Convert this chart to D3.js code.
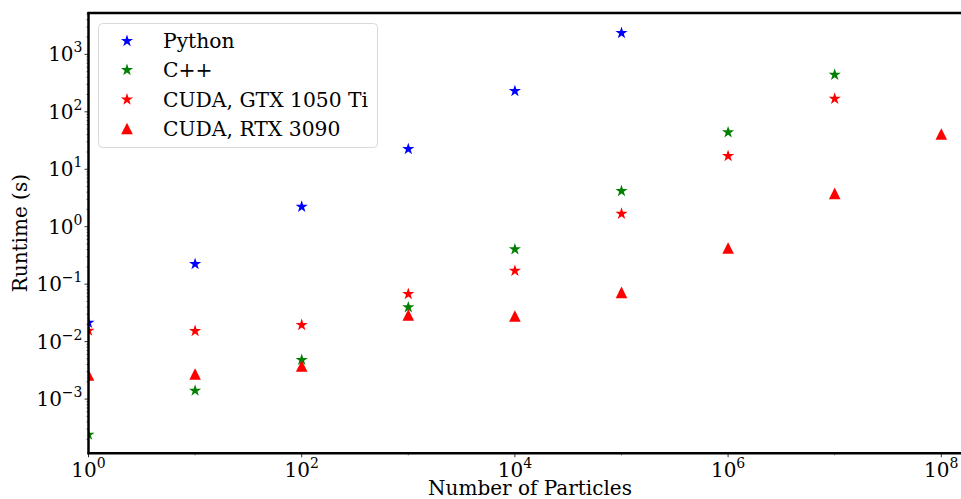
<!DOCTYPE html>
<html>
<head>
<meta charset="utf-8">
<script src="https://cdn.jsdelivr.net/npm/d3@7"></script>
<style>
  html, body { margin: 0; padding: 0; background: #fff; }
  svg { display: block; }
  text { font-family: "DejaVu Serif", serif; fill: #000; }
</style>
</head>
<body>
<svg id="chart" width="961" height="499"></svg>
<script>
// ---------- data ----------
const particlesPython = [1, 10, 100, 1e3, 1e4, 1e5];
const runtimePython   = [0.0213, 0.224, 2.23, 22.5, 230, 2355];

const particlesCpp = [1, 10, 100, 1e3, 1e4, 1e5, 1e6, 1e7];
const runtimeCpp   = [0.00024, 0.0014, 0.0048, 0.0395, 0.404, 4.18, 44, 442];

const particlesGTX = [1, 10, 100, 1e3, 1e4, 1e5, 1e6, 1e7];
const runtimeGTX   = [0.0155, 0.0153, 0.0195, 0.0674, 0.171, 1.68, 17, 169];

const particlesRTX = [1, 10, 100, 1e3, 1e4, 1e5, 1e6, 1e7, 1e8];
const runtimeRTX   = [0.00262, 0.00273, 0.00376, 0.029, 0.0279, 0.0721, 0.426, 3.81, 41.1];

const seriesNames = ["Python", "C++", "CUDA, GTX 1050 Ti", "CUDA, RTX 3090"];
const xTickExponents = [0, 2, 4, 6, 8];
const yTickExponents = [-3, -2, -1, 0, 1, 2, 3];

(function () {
// ---------- layout ----------
const svg = d3.select("#chart");
const mLeft = 88.5, mTop = 13, mBottom = 453.3, mRight = 1000;
const xDecade = 106.6;
const xRightVal = Math.pow(10, (mRight - mLeft) / xDecade);

const x = d3.scaleLog().domain([1, xRightVal]).range([mLeft, mRight]);
const y = d3.scaleLog().domain([Math.pow(10, -3.944), Math.pow(10, 3.72)]).range([mBottom, mTop]);

const series = [
  { name: seriesNames[0], xs: particlesPython, ys: runtimePython, color: "#0000ff", shape: "star" },
  { name: seriesNames[1], xs: particlesCpp,    ys: runtimeCpp,    color: "#008000", shape: "star" },
  { name: seriesNames[2], xs: particlesGTX,    ys: runtimeGTX,    color: "#ff0000", shape: "star" },
  { name: seriesNames[3], xs: particlesRTX,    ys: runtimeRTX,    color: "#ff0000", shape: "tri" }
];

function starPath(R) {
  const r = R * 0.381966;
  const pts = [];
  for (let i = 0; i < 10; i++) {
    const a = -Math.PI / 2 + i * Math.PI / 5;
    const rr = i % 2 === 0 ? R : r;
    pts.push([rr * Math.cos(a), rr * Math.sin(a)]);
  }
  return "M" + pts.map(p => p[0].toFixed(2) + "," + p[1].toFixed(2)).join("L") + "Z";
}
function triPath(h) {
  return `M0,${-h}L${-h},${h}L${h},${h}Z`;
}
const shapes = { star: starPath(6.4), tri: triPath(5.8) };

// clip
svg.append("defs").append("clipPath").attr("id", "clip")
  .append("rect").attr("x", mLeft).attr("y", mTop).attr("width", mRight - mLeft).attr("height", mBottom - mTop);

// ---------- axes ticks ----------
const axG = svg.append("g");
yTickExponents.forEach(e => {
  const yy = y(Math.pow(10, e));
  axG.append("line").attr("x1", mLeft - 4).attr("x2", mLeft).attr("y1", yy).attr("y2", yy)
    .attr("stroke", "#000").attr("stroke-width", 0.8);
  const t = axG.append("text").attr("x", mLeft - 6).attr("y", yy + 7).attr("text-anchor", "end")
    .style("font-size", "20px");
  t.append("tspan").text("10");
  t.append("tspan").attr("dy", -9).style("font-size", "14px").text(e < 0 ? "\u2212" + (-e) : String(e));
});
for (let e = -4; e <= 3; e++) {
  for (let k = 2; k <= 9; k++) {
    const v = k * Math.pow(10, e);
    if (v < y.domain()[0] || v > y.domain()[1]) continue;
    const yy = y(v);
    axG.append("line").attr("x1", mLeft - 2).attr("x2", mLeft).attr("y1", yy).attr("y2", yy)
      .attr("stroke", "#000").attr("stroke-width", 0.6);
  }
}
xTickExponents.forEach(e => {
  const xx = x(Math.pow(10, e));
  axG.append("line").attr("x1", xx).attr("x2", xx).attr("y1", mBottom).attr("y2", mBottom + 4)
    .attr("stroke", "#000").attr("stroke-width", 0.8);
  const t = axG.append("text").attr("x", xx).attr("y", mBottom + 24).attr("text-anchor", "middle")
    .style("font-size", "20px");
  t.append("tspan").text("10");
  t.append("tspan").attr("dy", -9).style("font-size", "14px").text(String(e));
});
[1, 3, 5, 7].forEach(e => {
  const xx = x(Math.pow(10, e));
  axG.append("line").attr("x1", xx).attr("x2", xx).attr("y1", mBottom).attr("y2", mBottom + 2)
    .attr("stroke", "#000").attr("stroke-width", 0.6);
});

// ---------- data points ----------
const plot = svg.append("g").attr("clip-path", "url(#clip)");
series.forEach(s => {
  plot.selectAll(null).data(s.xs.map((xv, i) => [xv, s.ys[i]])).enter()
    .append("path")
    .attr("d", shapes[s.shape])
    .attr("transform", d => `translate(${x(d[0])},${y(d[1])})`)
    .attr("fill", s.color);
});

// ---------- spines ----------
svg.append("line").attr("x1", mLeft).attr("x2", mLeft).attr("y1", mTop - 1).attr("y2", mBottom + 1)
  .attr("stroke", "#000").attr("stroke-width", 2.5);
svg.append("line").attr("x1", mLeft - 1).attr("x2", 961).attr("y1", mBottom).attr("y2", mBottom)
  .attr("stroke", "#000").attr("stroke-width", 2.5);
svg.append("line").attr("x1", mLeft - 1).attr("x2", 961).attr("y1", mTop).attr("y2", mTop)
  .attr("stroke", "#000").attr("stroke-width", 2.5);

// ---------- labels ----------
svg.append("text").attr("x", 530).attr("y", 495).attr("text-anchor", "middle")
  .style("font-size", "20px").text("Number of Particles");
svg.append("text").attr("transform", `translate(27,${(mTop + mBottom) / 2}) rotate(-90)`)
  .attr("text-anchor", "middle").style("font-size", "20px").text("Runtime (s)");

// ---------- legend ----------
const lg = svg.append("g");
lg.append("rect").attr("x", 98.5).attr("y", 23.5).attr("width", 279).attr("height", 124)
  .attr("rx", 4).attr("fill", "#fff").attr("fill-opacity", 0.8)
  .attr("stroke", "#d9d9d9").attr("stroke-width", 1);
const rowY = [41, 70, 99.5, 128.5];
series.forEach((s, i) => {
  lg.append("path").attr("d", shapes[s.shape]).attr("transform", `translate(127,${rowY[i]})`)
    .attr("fill", s.color);
  lg.append("text").attr("x", 163).attr("y", rowY[i] + 7).style("font-size", "20.3px").text(s.name);
});
})();
</script>
</body>
</html>
